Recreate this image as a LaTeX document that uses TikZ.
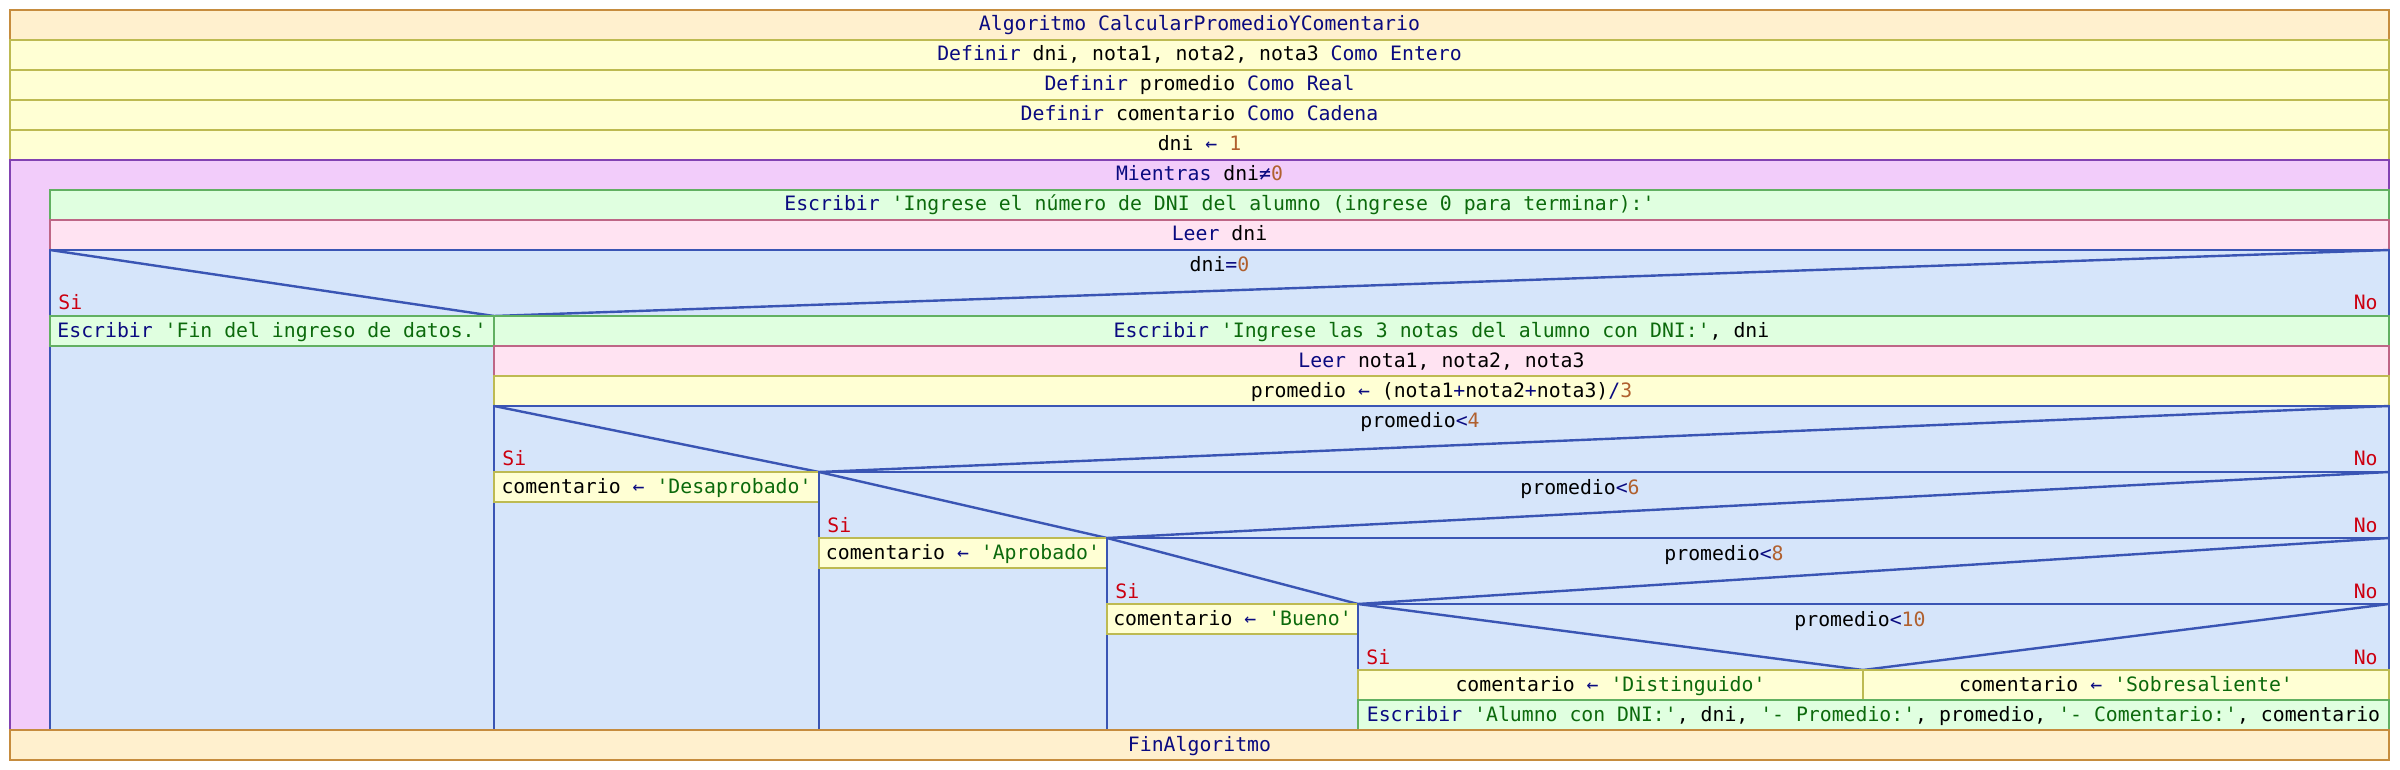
\documentclass[tikz,border=0pt]{standalone}
\usepackage{fontspec}
\setmonofont{DejaVu Sans Mono}
\usepackage{tikz}
\usetikzlibrary{positioning,calc}

\definecolor{startfill}{HTML}{FFF0CE}
\definecolor{startline}{HTML}{C68C3E}
\definecolor{assignfill}{HTML}{FFFFD4}
\definecolor{assignline}{HTML}{BDBA52}
\definecolor{loopfill}{HTML}{F2CCFA}
\definecolor{loopline}{HTML}{8242B2}
\definecolor{writefill}{HTML}{E0FFE0}
\definecolor{writeline}{HTML}{62B062}
\definecolor{readfill}{HTML}{FFE3F2}
\definecolor{readline}{HTML}{BE6686}
\definecolor{iffill}{HTML}{D6E5FA}
\definecolor{ifline}{HTML}{3A55B4}
\definecolor{kwcol}{HTML}{0A0A80}
\definecolor{strcol}{HTML}{0C6A0C}
\definecolor{numcol}{HTML}{B0602E}
\definecolor{sicol}{HTML}{CC0010}

\newcommand{\pkw}[1]{\textcolor{kwcol}{#1}}
\newcommand{\pstr}[1]{\textcolor{strcol}{#1}}
\newcommand{\pnum}[1]{\textcolor{numcol}{#1}}

\tikzset{
    startbox/.style={
           fill=startfill,
           draw=startline,
           line width=1.2pt,
           },
    assignbox/.style={
           fill=assignfill,
           draw=assignline,
           line width=1.2pt,
           },
    loopbox/.style={
           fill=loopfill,
           draw=loopline,
           line width=1.2pt,
           },
    writebox/.style={
           fill=writefill,
           draw=writeline,
           line width=1.2pt,
           },
    readbox/.style={
           fill=readfill,
           draw=readline,
           line width=1.2pt,
           },
    ifbox/.style={
           fill=iffill,
           draw=ifline,
           line width=1.2pt,
           },
    ifsplit/.style={
           draw=ifline,
           line width=1.2pt,
           },
    txt/.style={
           anchor=base,
           inner sep=0pt,
           font=\ttfamily\fontsize{9.9}{12}\selectfont,
           },
    silabel/.style={
           txt,
           anchor=base west,
           text=sicol,
           },
    nolabel/.style={
           txt,
           anchor=base east,
           text=sicol,
           }
}

\begin{document}
\begin{tikzpicture}
[
x=0.5pt,y=-0.5pt
]
 \useasboundingbox (0,0) rectangle (2400,770);

 % Header and definitions
 \filldraw[startbox] (10,10) rectangle (2389,40);
 \node[txt] (ALG) at (1199.5,31) {\pkw{Algoritmo CalcularPromedioYComentario}};

 \filldraw[assignbox] (10,40) rectangle (2389,70);
 \node[txt] (DEF1) at (1199.5,61) {\pkw{Definir} dni, nota1, nota2, nota3 \pkw{Como Entero}};

 \filldraw[assignbox] (10,70) rectangle (2389,100);
 \node[txt] (DEF2) at (1199.5,91) {\pkw{Definir} promedio \pkw{Como Real}};

 \filldraw[assignbox] (10,100) rectangle (2389,130);
 \node[txt] (DEF3) at (1199.5,121) {\pkw{Definir} comentario \pkw{Como Cadena}};

 \filldraw[assignbox] (10,130) rectangle (2389,160);
 \node[txt] (INIT) at (1199.5,151) {dni \pkw{←} \pnum{1}};

 % Loop: Mientras
 \filldraw[loopbox] (10,160) rectangle (2389,730);
 \node[txt] (WHILE) at (1199.5,181) {\pkw{Mientras} dni\pkw{≠}\pnum{0}};

 \filldraw[writebox] (50,190) rectangle (2389,220);
 \node[txt] (ASK) at (1219.5,211) {\pkw{Escribir} \pstr{'Ingrese el número de DNI del alumno (ingrese 0 para terminar):'}};

 \filldraw[readbox] (50,220) rectangle (2389,250);
 \node[txt] (READDNI) at (1219.5,241) {\pkw{Leer} dni};

 % Decision dni=0
 \filldraw[ifbox] (50,250) rectangle (2389,730);
 \draw[ifsplit] (50,250) -- (494,316) -- (2389,250);
 \draw[ifsplit] (494,316) -- (494,730);
 \node[txt] (IF0) at (1219.5,272) {dni\pkw{=}\pnum{0}};
 \node[silabel] (SI0) at (58,310) {Si};
 \node[nolabel] (NO0) at (2378,310) {No};

 \filldraw[writebox] (50,316) rectangle (494,346);
 \node[txt] (FIN) at (272,337) {\pkw{Escribir} \pstr{'Fin del ingreso de datos.'}};

 \filldraw[writebox] (494,316) rectangle (2389,346);
 \node[txt] (ASKNOTAS) at (1441.5,337) {\pkw{Escribir} \pstr{'Ingrese las 3 notas del alumno con DNI:'}, dni};

 \filldraw[readbox] (494,346) rectangle (2389,376);
 \node[txt] (READNOTAS) at (1441.5,367) {\pkw{Leer} nota1, nota2, nota3};

 \filldraw[assignbox] (494,376) rectangle (2389,406);
 \node[txt] (PROM) at (1441.5,397) {promedio \pkw{←} (nota1\pkw{+}nota2\pkw{+}nota3)\pkw{/}\pnum{3}};

 % Decision promedio<4
 \filldraw[ifbox] (494,406) rectangle (2389,730);
 \draw[ifsplit] (494,406) -- (819,472) -- (2389,406);
 \draw[ifsplit] (819,472) -- (819,730);
 \node[txt] (IF4) at (1420,428) {promedio\pkw{<}\pnum{4}};
 \node[silabel] (SI4) at (502,466) {Si};
 \node[nolabel] (NO4) at (2378,466) {No};

 \filldraw[assignbox] (494,472) rectangle (819,502);
 \node[txt] (DESAP) at (656.5,493) {comentario \pkw{←} \pstr{'Desaprobado'}};

 % Decision promedio<6
 \filldraw[ifbox] (819,472) rectangle (2389,730);
 \draw[ifsplit] (819,472) -- (1107,538) -- (2389,472);
 \draw[ifsplit] (1107,538) -- (1107,730);
 \node[txt] (IF6) at (1580,494) {promedio\pkw{<}\pnum{6}};
 \node[silabel] (SI6) at (827,532) {Si};
 \node[nolabel] (NO6) at (2378,532) {No};

 \filldraw[assignbox] (819,538) rectangle (1107,568);
 \node[txt] (APROB) at (963,559) {comentario \pkw{←} \pstr{'Aprobado'}};

 % Decision promedio<8
 \filldraw[ifbox] (1107,538) rectangle (2389,730);
 \draw[ifsplit] (1107,538) -- (1358,604) -- (2389,538);
 \draw[ifsplit] (1358,604) -- (1358,730);
 \node[txt] (IF8) at (1724,560) {promedio\pkw{<}\pnum{8}};
 \node[silabel] (SI8) at (1115,598) {Si};
 \node[nolabel] (NO8) at (2378,598) {No};

 \filldraw[assignbox] (1107,604) rectangle (1358,634);
 \node[txt] (BUENO) at (1232.5,625) {comentario \pkw{←} \pstr{'Bueno'}};

 % Decision promedio<10
 \filldraw[ifbox] (1358,604) rectangle (2389,700);
 \draw[ifsplit] (1358,604) -- (1863,670) -- (2389,604);
 \node[txt] (IF10) at (1860,626) {promedio\pkw{<}\pnum{10}};
 \node[silabel] (SI10) at (1366,664) {Si};
 \node[nolabel] (NO10) at (2378,664) {No};

 \filldraw[assignbox] (1358,670) rectangle (1863,700);
 \node[txt] (DIST) at (1610.5,691) {comentario \pkw{←} \pstr{'Distinguido'}};

 \filldraw[assignbox] (1863,670) rectangle (2389,700);
 \node[txt] (SOBRE) at (2126,691) {comentario \pkw{←} \pstr{'Sobresaliente'}};

 \filldraw[writebox] (1358,700) rectangle (2389,730);
 \node[txt] (SHOW) at (1873.5,721) {\pkw{Escribir} \pstr{'Alumno con DNI:'}, dni, \pstr{'- Promedio:'}, promedio, \pstr{'- Comentario:'}, comentario};

 % End
 \filldraw[startbox] (10,730) rectangle (2389,760);
 \node[txt] (END) at (1199.5,751) {\pkw{FinAlgoritmo}};

\end{tikzpicture}
\end{document}
